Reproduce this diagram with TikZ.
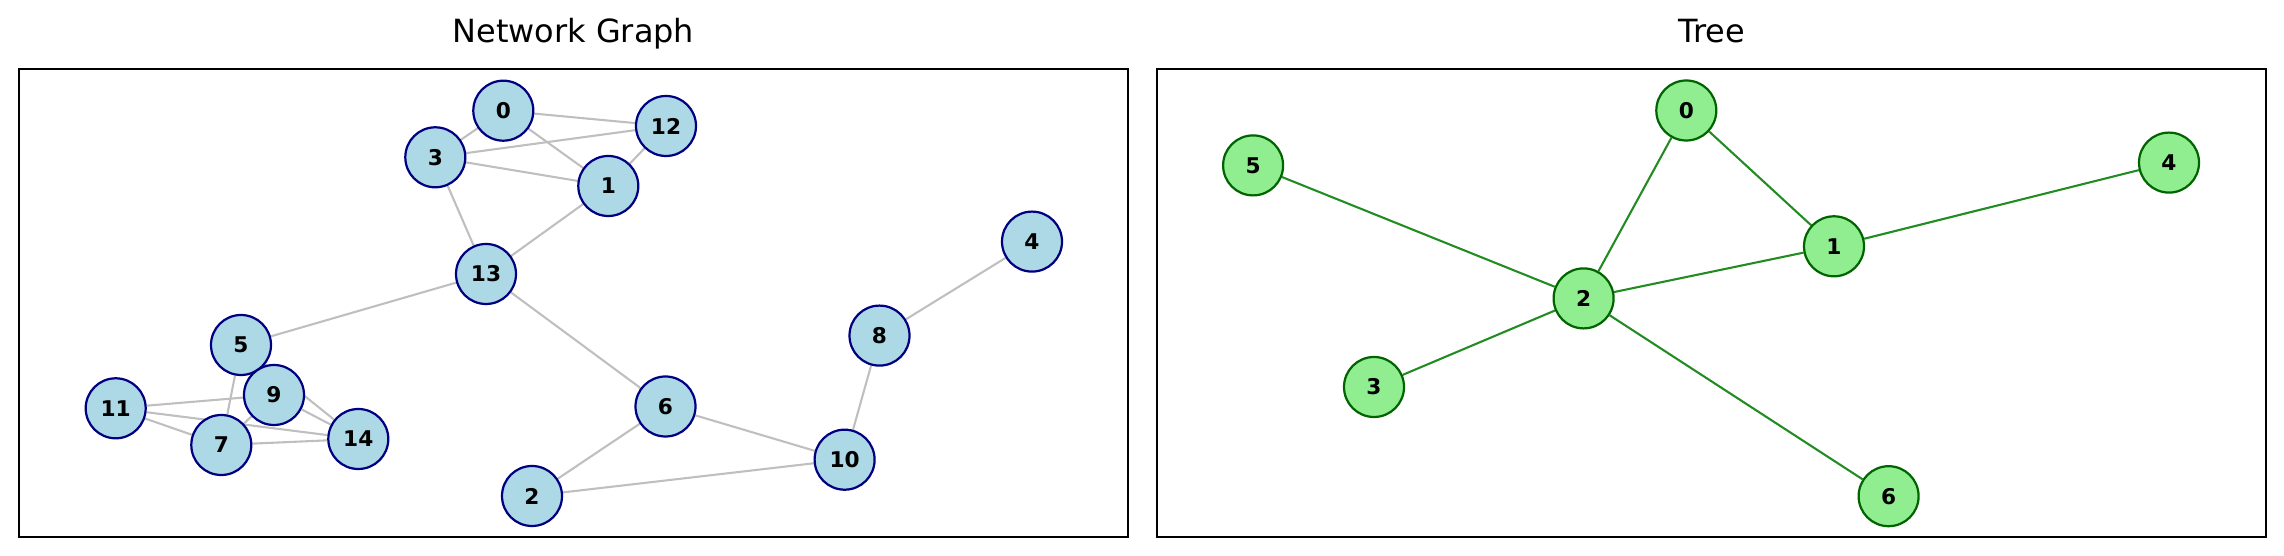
\documentclass[tikz,border=0pt]{standalone}
\usepackage{fontspec}
\setmainfont{DejaVu Sans}
\pgfdeclarelayer{edges}
\pgfsetlayers{edges,main}
\definecolor{nodeblue}{HTML}{ADD8E6}
\definecolor{navyb}{HTML}{000080}
\definecolor{nodegreen}{HTML}{90EE90}
\definecolor{darkg}{HTML}{006400}
\definecolor{forestg}{HTML}{228B22}
\definecolor{edgegray}{HTML}{BFBFBF}
\tikzset{
  bnode/.style={circle, draw=navyb, fill=nodeblue, line width=0.8pt, minimum size=21.6pt, inner sep=0pt, font=\fontsize{7.8}{8}\selectfont\bfseries},
  gnode/.style={circle, draw=darkg, fill=nodegreen, line width=0.8pt, minimum size=21.6pt, inner sep=0pt, font=\fontsize{7.8}{8}\selectfont\bfseries},
  gedge/.style={draw=edgegray, line width=0.75pt},
  tedge/.style={draw=forestg, line width=0.75pt},
  panel/.style={draw=black, line width=0.8pt},
  ttl/.style={anchor=base, font=\fontsize{11.5}{12}\selectfont, inner sep=0pt}
}
\begin{document}
\begin{tikzpicture}[x=0.36pt, y=-0.36pt]
\useasboundingbox (0,0) rectangle (2284,556);
% panels
\draw[panel] (19,69) rectangle (1128,537);
\draw[panel] (1157,69) rectangle (2266,537);
\node[ttl] (t1) at (573.5,43) {Network Graph};
\node[ttl] (t2) at (1711.5,43) {Tree};
% network nodes
\node[bnode] (a0) at (503.3,110.7) {0};
\node[bnode] (a12) at (666,126) {12};
\node[bnode] (a3) at (435.3,157.3) {3};
\node[bnode] (a1) at (608.3,186) {1};
\node[bnode] (a13) at (486,274) {13};
\node[bnode] (a4) at (1032,241.6) {4};
\node[bnode] (a8) at (879.5,335.6) {8};
\node[bnode] (a5) at (241,345) {5};
\node[bnode] (a9) at (274,395) {9};
\node[bnode] (a11) at (115.7,408.3) {11};
\node[bnode] (a14) at (358.3,439) {14};
\node[bnode] (a7) at (221.3,445) {7};
\node[bnode] (a6) at (665.5,406.5) {6};
\node[bnode] (a10) at (844.6,459.7) {10};
\node[bnode] (a2) at (532,496) {2};
\begin{pgfonlayer}{edges}
\foreach \u/\v in {a0/a12,a0/a3,a0/a1,a3/a12,a3/a1,a1/a12,a3/a13,a1/a13,a13/a5,a13/a6,a4/a8,a8/a10,a6/a10,a6/a2,a2/a10,a5/a7,a5/a14,a11/a9,a11/a14,a11/a7,a9/a14,a9/a7,a7/a14}
  \draw[gedge] (\u) -- (\v);
\end{pgfonlayer}
% tree nodes
\node[gnode] (b0) at (1686.3,110.5) {0};
\node[gnode] (b5) at (1253.1,165.4) {5};
\node[gnode] (b4) at (2169,162.6) {4};
\node[gnode] (b1) at (1834,246.3) {1};
\node[gnode] (b2) at (1583.6,298.4) {2};
\node[gnode] (b3) at (1374,387) {3};
\node[gnode] (b6) at (1888.6,496.2) {6};
\begin{pgfonlayer}{edges}
\foreach \u/\v in {b0/b1,b0/b2,b5/b2,b1/b4,b1/b2,b2/b3,b2/b6}
  \draw[tedge] (\u) -- (\v);
\end{pgfonlayer}
\end{tikzpicture}
\end{document}
